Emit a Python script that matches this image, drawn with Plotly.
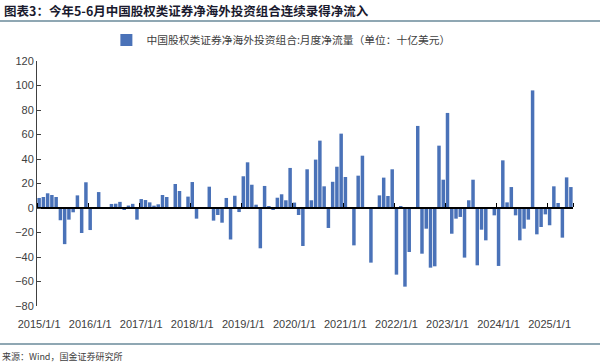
import plotly.graph_objects as go
import pandas as pd

months = pd.date_range("2015-01-01", "2025-06-01", freq="MS")
flows = [
    8.2, 9, 12, 10.6, 9, -10, -29.5, -9.5, -3.5, 10.3, -20.4, 21,
    -18, 0.5, 13, 0.5, 0.5, 3.3, 3.5, 5, -1, 2, 3.4, -9.5,
    7.3, 6.5, 4.6, 1.9, 3, 10.6, 9, 0.3, 19.6, 13.9, 0.3, 9.3,
    21.2, -8.7, 0.3, 0.3, 17.4, -10.3, -5.7, -12, 8.2, -25.7, 10, -3.3,
    25.9, 37.3, 19, 2.7, -32.9, 18, 1.4, -1.4, 8.4, 11.2, 6.3, 32.7,
    4.4, -5.7, -31, 31.6, 6.3, 39.5, 55, 17.7, -16.3, 21.4, 33.7, 60.7,
    25.3, 0.5, -30.5, 26.4, 42.7, 0.2, -44.6, 0.2, 10.3, 24.8, 9.8, 31.6,
    -54.4, 1, -64.2, -35.9, 0.2, 67, -37.3, -16.9, -48.7, -47.6, 50.9, 23.1,
    77.6, -21, -8.7, -7.3, -40.5, 6.3, 23.1, -46.8, -17.7, -26.4, 0.2, -6,
    -47.3, 38.9, 4.6, 17.1, -6, -26.4, -16.9, -9.5, 96, -21.5, -15.5, -5.2,
    -14.1, 17.7, 4.1, -24.2, 25, 17.1,
]
month_labels = [f"{d.year}/{d.month}/{d.day}" for d in months]
year_ticks = [i for i, d in enumerate(months) if d.month == 1]
year_labels = [month_labels[i] for i in year_ticks]
y_ticks = [-80, -60, -40, -20, 0, 20, 40, 60, 80, 100, 120]

title = "图表3：今年5-6月中国股权类证券净海外投资组合连续录得净流入"
series_name = "中国股权类证券净海外投资组合:月度净流量（单位：十亿美元）"
source = "来源：Wind，国金证券研究所"

xpos = list(range(len(months)))
n = len(months)

fig = go.Figure()
fig.add_trace(go.Bar(
    x=xpos, y=flows, name=series_name,
    marker=dict(color="#4A72B8", line=dict(width=0)),
    showlegend=True,
))
fig.add_trace(go.Scatter(x=[0], y=[0], xaxis="x2", mode="markers",
                         marker=dict(opacity=0), showlegend=False, hoverinfo="skip"))

CJK = "Noto Sans CJK SC"
fig.update_layout(
    width=600, height=362,
    margin=dict(l=37, r=27, t=61, b=56, autoexpand=False),
    paper_bgcolor="white", plot_bgcolor="white",
    bargap=0.18,
    font=dict(family="Liberation Sans, Arial", size=11, color="#404040"),
    xaxis=dict(
        range=[-0.5, n - 0.5], tickmode="array", tickvals=year_ticks, ticktext=year_labels,
        showgrid=False, zeroline=False, showline=False,
        ticks="outside", ticklen=8, tickcolor="rgba(0,0,0,0)",
        tickfont=dict(size=11, color="#404040"), automargin=False,
    ),
    xaxis2=dict(
        overlaying="x", side="top", anchor="free", position=0.4,
        range=[-0.5, n - 0.5], tickmode="array",
        tickvals=[i - 0.5 for i in year_ticks] + [n - 0.5],
        showticklabels=False, ticks="outside", ticklen=4, tickcolor="#000000", tickwidth=1,
        showline=True, linecolor="#000000", linewidth=1.5, showgrid=False, zeroline=False,
    ),
    yaxis=dict(
        range=[-80, 120], tickmode="array", tickvals=y_ticks,
        showgrid=False, zeroline=False, showline=True, linecolor="#404040", linewidth=1,
        ticks="inside", ticklen=4, tickcolor="#404040",
        tickfont=dict(size=11, color="#404040"), automargin=False,
    ),
    legend=dict(
        orientation="h", x=0.455, xanchor="center", y=1.086, yanchor="middle",
        font=dict(family=CJK, size=10.75, color="#404040"),
        bgcolor="rgba(0,0,0,0)",
    ),
    showlegend=True,
    annotations=[
        dict(text=title, xref="paper", yref="paper", x=-0.0646, y=1.208,
             xanchor="left", yanchor="middle", showarrow=False,
             font=dict(family=CJK, size=12.5, color="#1a1a2e", weight="bold")),
        dict(text=source, xref="paper", yref="paper", x=-0.0697, y=-0.208,
             xanchor="left", yanchor="middle", showarrow=False,
             font=dict(family=CJK, size=9, color="#404040")),
    ],
    shapes=[
        dict(type="line", xref="paper", yref="paper", x0=-0.0697, x1=1.0508,
             y0=1.163, y1=1.163, line=dict(color="#6A8A9A", width=1.5)),
        dict(type="line", xref="paper", yref="paper", x0=-0.0697, x1=1.0508,
             y0=-0.155, y1=-0.155, line=dict(color="#6A8A9A", width=1.5)),
    ],
)

fig.write_html("out.html", config={"displayModeBar": False},
               post_script="document.body.style.margin='0';document.body.style.overflow='hidden';")
